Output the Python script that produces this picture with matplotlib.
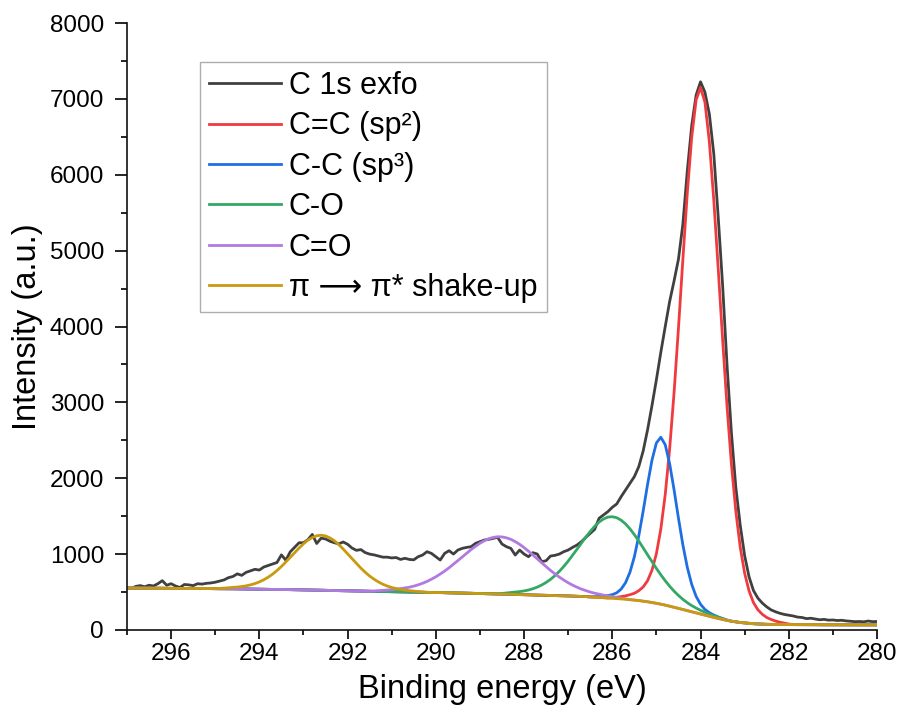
import numpy as np
import matplotlib
matplotlib.use("Agg")
import matplotlib.pyplot as plt
from matplotlib.ticker import MultipleLocator

plt.rcParams['font.family'] = ['Liberation Sans', 'DejaVu Sans']
plt.rcParams['mathtext.default'] = 'regular'

# ---------------- data ----------------
energy_start = 297.0
energy_step = 0.1
n_points = 171  # 297.0 -> 280.0

exp_intensity = [
    560, 548, 575, 585, 570, 590, 580, 610, 650, 590,   # 297.0-296.1
    610, 580, 560, 600, 595, 585, 610, 605, 615, 620,   # 296.0-295.1
    630, 645, 660, 690, 705, 740, 720, 760, 780, 800,   # 295.0-294.1
    790, 830, 850, 870, 890, 990, 920, 1030, 1090, 1150,  # 294.0-293.1
    1150, 1190, 1260, 1140, 1210, 1200, 1170, 1150, 1135, 1160,  # 293.0-292.1
    1130, 1080, 1050, 1060, 1020, 1000, 990, 975, 960, 960,  # 292.0-291.1
    950, 955, 930, 945, 930, 925, 966, 988, 1032, 1010,  # 291.0-290.1
    966, 922, 1010, 1045, 1001, 1054, 1076, 1089, 1098, 1142,  # 290.0-289.1
    1164, 1186, 1195, 1208, 1221, 1133, 1098, 1076, 988, 1054,  # 289.0-288.1
    1001, 966, 1019, 1001, 900, 913, 975, 984, 1001, 1032,  # 288.0-287.1
    1054, 1089, 1120, 1164, 1221, 1274, 1326, 1472, 1516, 1560,  # 287.0-286.1
    1617, 1661, 1757, 1845, 1933, 2021, 2152, 2360, 2640, 2960,  # 286.0-285.1
    3300, 3660, 4000, 4330, 4600, 4888, 5350, 6050, 6647, 7050,  # 285.0-284.1
    7225, 7087, 6800, 6280, 5450, 4550, 3500, 2600, 1880, 1380,  # 284.0-283.1
    980, 700, 520, 420, 355, 305, 265, 240, 220, 205,  # 283.0-282.1
    195, 185, 170, 165, 150, 155, 145, 135, 140, 130,  # 282.0-281.1
    132, 125, 128, 120, 115, 110, 112, 108, 118, 110,  # 281.0-280.1
    112,  # 280.0
]

background = [
    553, 553, 552, 552, 551, 551, 551, 550, 550, 549,
    549, 549, 548, 548, 547, 547, 547, 546, 546, 545,
    545, 544, 544, 543, 543, 542, 541, 540, 540, 539,
    538, 537, 536, 535, 535, 534, 533, 532, 531, 530,
    529, 528, 526, 525, 524, 523, 521, 520, 519, 517,
    516, 515, 514, 513, 512, 510, 509, 508, 507, 506,
    505, 504, 503, 502, 500, 499, 498, 497, 496, 495,
    494, 493, 491, 490, 489, 488, 486, 485, 484, 482,
    481, 479, 478, 476, 475, 473, 471, 470, 468, 467,
    465, 463, 462, 460, 459, 457, 455, 454, 452, 451,
    449, 447, 445, 442, 440, 436, 433, 430, 426, 422,
    418, 414, 410, 405, 400, 394, 388, 380, 372, 362,
    352, 340, 328, 314, 300, 285, 270, 255, 240, 225,
    210, 195, 180, 166, 152, 139, 127, 116, 107, 99,
    93, 88, 83, 80, 77, 75, 74, 73, 72, 72,
    71, 71, 71, 70, 70, 70, 70, 69, 69, 69,
    69, 69, 69, 68, 68, 68, 68, 68, 68, 68,
    68,
]

# peak heights above background, listed from high to low binding energy
sp2_start = 286.1
sp2_peak = [0, 8, 18, 30, 45, 65, 90, 130, 187, 278, 427, 655, 991, 1458,
            2072, 2827, 3695, 4616, 5505, 6254, 6761, 6940, 6761, 6254, 5505,
            4616, 3695, 2827, 2072, 1458, 991, 655, 427, 278, 187, 130, 90,
            65, 45, 30, 18, 8, 0]

sp3_start = 286.5
sp3_peak = [0, 5, 12, 20, 32, 48, 76, 129, 218, 361, 571, 851, 1188, 1548,
            1878, 2114, 2200, 2114, 1878, 1548, 1188, 851, 571, 361, 218, 129,
            76, 48, 32, 20, 12, 5, 0]

co_start = 288.6
co_peak = [0, 9, 17, 24, 31, 39, 50, 64, 82, 105, 134, 170, 212, 263, 321,
           387, 459, 538, 619, 703, 785, 863, 933, 993, 1037, 1066, 1075,
           1066, 1037, 993, 933, 863, 785, 703, 619, 538, 459, 387, 321, 263,
           212, 170, 134, 105, 82, 64, 50, 39, 31, 24, 17, 9, 0]

cdo_start = 291.5
cdo_peak = [0, 5, 10, 15, 21, 27, 34, 42, 52, 64, 79, 97, 119, 144, 174, 207,
            245, 286, 330, 378, 427, 477, 527, 576, 621, 662, 697, 725, 744,
            754, 754, 744, 725, 697, 662, 621, 576, 527, 477, 427, 378, 330,
            286, 245, 207, 174, 144, 119, 97, 79, 64, 52, 42, 34, 27, 21, 15,
            10, 5, 0]

pi_start = 295.0
pi_peak = [0, 4, 8, 13, 19, 24, 32, 42, 55, 73, 96, 125, 160, 201, 249, 303,
           363, 425, 488, 550, 607, 656, 693, 717, 725, 717, 693, 656, 607,
           550, 488, 425, 363, 303, 249, 201, 160, 125, 96, 73, 55, 42, 32,
           24, 19, 13, 8, 4, 0]

labels = ["C 1s exfo", "C=C (sp\u00b2)", "C-C (sp\u00b3)", "C-O", "C=O",
          "\u03c0 \u27f6 \u03c0* shake-up"]
colors = ["#404040", "#EF3B3F", "#1F6FE3", "#33A865", "#B27AE0", "#C99A0E"]

x_ticks = [296, 294, 292, 290, 288, 286, 284, 282, 280]
y_ticks = [0, 1000, 2000, 3000, 4000, 5000, 6000, 7000, 8000]

# ---------------- build curves ----------------
energy = np.round(energy_start - energy_step * np.arange(n_points), 1)
bg = np.array(background, dtype=float)


def component(start, peak):
    i0 = int(round((energy_start - start) / energy_step))
    c = bg.copy()
    c[i0:i0 + len(peak)] += np.array(peak, dtype=float)
    return c


curves = [np.array(exp_intensity, dtype=float),
          component(sp2_start, sp2_peak),
          component(sp3_start, sp3_peak),
          component(co_start, co_peak),
          component(cdo_start, cdo_peak),
          component(pi_start, pi_peak)]

# ---------------- plot ----------------
fig = plt.figure(figsize=(8.99, 7.23), dpi=100)
ax = fig.add_axes([127 / 899, 93 / 723, 750 / 899, 607 / 723])

for y, lab, col in zip(curves, labels, colors):
    ax.plot(energy, y, color=col, lw=2.0, label=lab)

ax.set_xlim(297, 280)
ax.set_ylim(0, 8000)
ax.set_xticks(x_ticks)
ax.set_yticks(y_ticks)
ax.xaxis.set_minor_locator(MultipleLocator(1))
ax.yaxis.set_minor_locator(MultipleLocator(500))

for s in ["top", "right"]:
    ax.spines[s].set_visible(False)
for s in ["left", "bottom"]:
    ax.spines[s].set_linewidth(1.2)
    ax.spines[s].set_color("#111111")

ax.tick_params(axis="x", which="major", direction="out", length=6.5, width=1.2,
               labelsize=17.5, pad=3)
ax.tick_params(axis="x", which="minor", direction="out", length=3.5, width=1.2)
ax.tick_params(axis="y", which="major", direction="out", length=8.5, width=1.2,
               labelsize=17.5, pad=8)
ax.tick_params(axis="y", which="minor", direction="out", length=4.5, width=1.2)

ax.set_xlabel("Binding energy (eV)", fontsize=23.5, labelpad=6)
ax.set_ylabel("Intensity (a.u.)", fontsize=23.5, labelpad=5)

leg = ax.legend(loc="upper left", bbox_to_anchor=(0.097, 0.936),
                borderaxespad=0, fontsize=22, frameon=True, fancybox=False,
                handlelength=2.35, handletextpad=0.27, labelspacing=0.34,
                borderpad=0.3)
leg.get_frame().set_edgecolor("#999999")
leg.get_frame().set_linewidth(1.0)
for line in leg.get_lines():
    line.set_linewidth(2.0)

fig.savefig("out.png", dpi=100)
